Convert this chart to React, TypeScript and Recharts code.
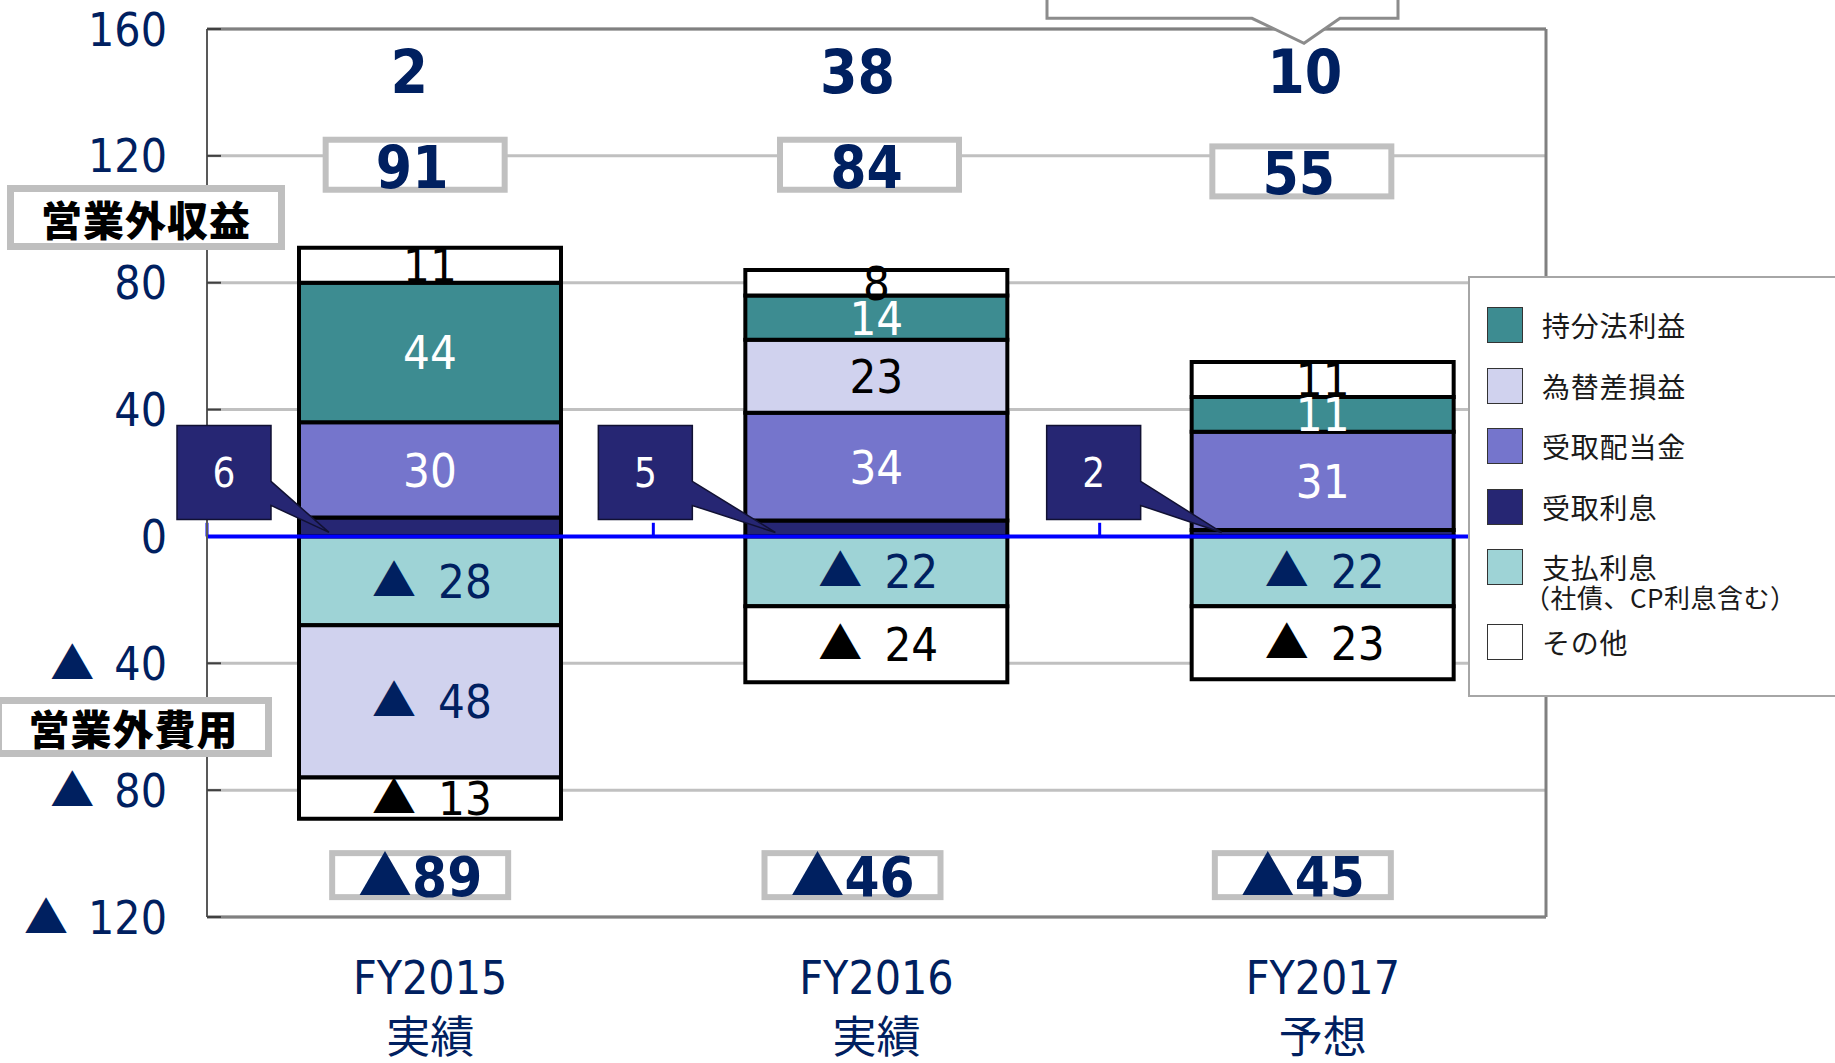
import React from "react";
import {
  Bar,
  BarChart,
  CartesianGrid,
  LabelList,
  ReferenceDot,
  ReferenceLine,
  XAxis,
  YAxis,
} from "recharts";

const categories = ["FY2015", "FY2016", "FY2017"];
const categorySubLabels = ["実績", "実績", "予想"];

// 営業外収益
const interestIncome = [6, 5, 2]; // 受取利息
const dividendIncome = [30, 34, 31]; // 受取配当金
const fxGainLoss = [-48, 23, 0]; // 為替差損益
const equityIncome = [44, 14, 11]; // 持分法利益
const otherIncome = [11, 8, 11]; // その他

// 営業外費用
const interestExpense = [-28, -22, -22]; // 支払利息
const otherExpense = [-13, -24, -23]; // その他

const incomeTotals = [91, 84, 55];
const expenseTotals = [-89, -46, -45];
const netTotals = [2, 38, 10];

const yTicks = [-120, -80, -40, 0, 40, 80, 120, 160];

const legendItems = [
  { label: "持分法利益", color: "#3D8C91" },
  { label: "為替差損益", color: "#D0D2EE" },
  { label: "受取配当金", color: "#7575CC" },
  { label: "受取利息", color: "#262673" },
  { label: "支払利息", sub: "（社債、CP利息含む）", color: "#9ED3D6" },
  { label: "その他", color: "#FFFFFF" },
];

const NAVY = "#002060";
const NARROW =
  "'Liberation Sans Narrow', 'Arial Narrow', 'DejaVu Sans Condensed', sans-serif";
const JP = "'Noto Sans CJK JP', sans-serif";
const BAR_STROKE = 4;

// small per-column nudges of the text boxes, in px
const netDx = [-21, -19, -18];
const incomeBoxDx = [-15, -7, -21];
const incomeBoxY = [117.2, 117.2, 115.1];
const expenseBoxDx = [-10, -24, -20];
const calloutGap = [28, 53, 51];

const data = categories.map((name, i) => ({
  name,
  interestIncome: interestIncome[i],
  dividendIncome: dividendIncome[i],
  fxGain: fxGainLoss[i] > 0 ? fxGainLoss[i] : null,
  equityIncome: equityIncome[i],
  otherIncome: otherIncome[i],
  interestExpense: interestExpense[i],
  fxLoss: fxGainLoss[i] < 0 ? fxGainLoss[i] : null,
  otherExpense: otherExpense[i],
}));

const box = (props: any) => props.viewBox ?? props;

function segmentLabel(color: string, negative = false) {
  return (props: any) => {
    const { x, y, width, height } = box(props);
    const value = props.value;
    if (value == null || value === 0) return null;
    const cx = x + width / 2;
    const cy = y + height / 2;
    if (!negative) {
      return (
        <text
          x={cx}
          y={cy}
          dy="0.36em"
          textAnchor="middle"
          fill={color}
          fontSize={47}
          fontFamily={NARROW}
        >
          {value}
        </text>
      );
    }
    return (
      <g>
        <text
          x={cx - 36}
          y={cy}
          dy="0.36em"
          textAnchor="middle"
          fill={color}
          fontSize={44}
          fontFamily={JP}
        >
          ▲
        </text>
        <text
          x={cx + 35}
          y={cy}
          dy="0.36em"
          textAnchor="middle"
          fill={color}
          fontSize={47}
          fontFamily={NARROW}
        >
          {Math.abs(value)}
        </text>
      </g>
    );
  };
}

// dark callout box pointing at the 受取利息 slice
const renderCallout = (props: any) => {
  const { x, y, width, height } = box(props);
  const value = props.value;
  const index = props.index ?? 0;
  if (!value) return null;
  const zeroY = y + height;
  const ppu = height / value;
  const right = x - calloutGap[index];
  const left = right - 94;
  const top = zeroY - 35 * ppu;
  const bottom = top + 94;
  const tipX = x + 30;
  const tipY = zeroY - 4;
  const d = `M${left},${top} L${right},${top} L${right},${top + 56} L${tipX},${tipY} L${right},${top + 80} L${right},${bottom} L${left},${bottom} Z`;
  return (
    <g>
      <path d={d} fill="#262673" stroke="#111133" strokeWidth={1.5} />
      <text
        x={(left + right) / 2}
        y={(top + bottom) / 2}
        dy="0.36em"
        textAnchor="middle"
        fill="#fff"
        fontSize={40}
        fontFamily={NARROW}
      >
        {value}
      </text>
    </g>
  );
};

// tick label plus the short inward tick mark on the left axis
const YTick = (props: any) => {
  const { x, y, payload } = props;
  const v = payload.value;
  const axisX = x + 40;
  return (
    <g>
      {v !== 0 && (
        <line x1={axisX} x2={axisX + 14} y1={y} y2={y} stroke="#404040" strokeWidth={2} />
      )}
      <text
        x={x}
        y={y}
        dy="0.36em"
        textAnchor="end"
        fill={NAVY}
        fontSize={46}
        fontFamily={NARROW}
      >
        {v < 0 && (
          <tspan fontFamily={JP} fontSize={44}>
            ▲
          </tspan>
        )}
        <tspan dx={v < 0 ? 20 : 0}>{Math.abs(v)}</tspan>
      </text>
    </g>
  );
};

const XTick = (props: any) => {
  const { x, y, payload, index } = props;
  return (
    <g>
      <text
        x={x}
        y={y + 60}
        dy="0.36em"
        textAnchor="middle"
        fill={NAVY}
        fontSize={46}
        fontFamily={NARROW}
      >
        {payload.value}
      </text>
      <text
        x={x}
        y={y + 119}
        dy="0.38em"
        textAnchor="middle"
        fill={NAVY}
        fontSize={44}
        fontFamily={JP}
      >
        {categorySubLabels[index]}
      </text>
    </g>
  );
};

const sideLabel = (text: string, left: number, top: number, w: number, h: number) => (
  <div
    style={{
      position: "absolute",
      left,
      top,
      width: w,
      height: h,
      boxSizing: "border-box",
      border: "7px solid #BFBFBF",
      background: "#fff",
      display: "flex",
      alignItems: "center",
      justifyContent: "center",
      fontFamily: JP,
      fontWeight: 900,
      fontSize: 41,
      color: "#000",
      letterSpacing: 1,
    }}
  >
    {text}
  </div>
);

export default function App() {
  return (
    <div
      style={{
        position: "absolute",
        left: 0,
        top: 0,
        width: 1835,
        height: 1063,
        background: "#fff",
        overflow: "hidden",
      }}
    >
      <BarChart
        width={1835}
        height={1063}
        data={data}
        stackOffset="sign"
        margin={{ top: 29, right: 289, bottom: 0, left: 0 }}
      >
        <CartesianGrid vertical={false} stroke="#C0C0C0" strokeWidth={3} />
        <XAxis
          dataKey="name"
          height={146}
          interval={0}
          tickLine={false}
          tickSize={0}
          tickMargin={0}
          axisLine={{ stroke: "#808080", strokeWidth: 3 }}
          tick={<XTick />}
        />
        <YAxis
          width={207}
          domain={[-120, 160]}
          ticks={yTicks}
          interval={0}
          tickSize={0}
          tickMargin={40}
          axisLine={{ stroke: "#595959", strokeWidth: 2 }}
          tick={<YTick />}
        />

        <Bar dataKey="interestIncome" stackId="s" fill="#262673" stroke="#000" strokeWidth={BAR_STROKE} barSize={262} isAnimationActive={false}>
          <LabelList dataKey="interestIncome" content={renderCallout} />
        </Bar>
        <Bar dataKey="dividendIncome" stackId="s" fill="#7575CC" stroke="#000" strokeWidth={BAR_STROKE} barSize={262} isAnimationActive={false}>
          <LabelList dataKey="dividendIncome" content={segmentLabel("#fff")} />
        </Bar>
        <Bar dataKey="fxGain" stackId="s" fill="#D0D2EE" stroke="#000" strokeWidth={BAR_STROKE} barSize={262} isAnimationActive={false}>
          <LabelList dataKey="fxGain" content={segmentLabel("#000")} />
        </Bar>
        <Bar dataKey="equityIncome" stackId="s" fill="#3D8C91" stroke="#000" strokeWidth={BAR_STROKE} barSize={262} isAnimationActive={false}>
          <LabelList dataKey="equityIncome" content={segmentLabel("#fff")} />
        </Bar>
        <Bar dataKey="otherIncome" stackId="s" fill="#FFFFFF" stroke="#000" strokeWidth={BAR_STROKE} barSize={262} isAnimationActive={false}>
          <LabelList dataKey="otherIncome" content={segmentLabel("#000")} />
        </Bar>
        <Bar dataKey="interestExpense" stackId="s" fill="#9ED3D6" stroke="#000" strokeWidth={BAR_STROKE} barSize={262} isAnimationActive={false}>
          <LabelList dataKey="interestExpense" content={segmentLabel(NAVY, true)} />
        </Bar>
        <Bar dataKey="fxLoss" stackId="s" fill="#D0D2EE" stroke="#000" strokeWidth={BAR_STROKE} barSize={262} isAnimationActive={false}>
          <LabelList dataKey="fxLoss" content={segmentLabel(NAVY, true)} />
        </Bar>
        <Bar dataKey="otherExpense" stackId="s" fill="#FFFFFF" stroke="#000" strokeWidth={BAR_STROKE} barSize={262} isAnimationActive={false}>
          <LabelList dataKey="otherExpense" content={segmentLabel("#000", true)} />
        </Bar>

        {/* plot frame */}
        <ReferenceLine y={160} stroke="#808080" strokeWidth={3} />
        <ReferenceLine x="FY2017" position="end" stroke="#808080" strokeWidth={3} />
        <ReferenceLine y={0} stroke="#0000FF" strokeWidth={4} />
        {categories.map((c) => (
          <ReferenceLine
            key={`bt-${c}`}
            position="start"
            segment={[{ x: c, y: 0 }, { x: c, y: 4.3 }]}
            stroke="#0000FF"
            strokeWidth={3}
          />
        ))}

        {categories.map((c, i) => (
          <ReferenceDot
            key={`net-${c}`}
            x={c}
            y={146.5}
            r={1}
            shape={(p: any) => (
              <text
                x={p.cx + netDx[i]}
                y={p.cy}
                dy="0.36em"
                textAnchor="middle"
                fill={NAVY}
                fontSize={60}
                fontWeight="bold"
                fontFamily={NARROW}
              >
                {netTotals[i]}
              </text>
            )}
          />
        ))}
        {categories.map((c, i) => (
          <ReferenceDot
            key={`inc-${c}`}
            x={c}
            y={incomeBoxY[i]}
            r={1}
            shape={(p: any) => (
              <g>
                <rect
                  x={p.cx + incomeBoxDx[i] - 89.5}
                  y={p.cy - 25}
                  width={179}
                  height={50}
                  fill="#fff"
                  stroke="#C0C0C0"
                  strokeWidth={6}
                />
                <text
                  x={p.cx + incomeBoxDx[i] - 3}
                  y={p.cy + 2}
                  dy="0.36em"
                  textAnchor="middle"
                  fill={NAVY}
                  fontSize={58}
                  fontWeight="bold"
                  fontFamily={NARROW}
                >
                  {incomeTotals[i]}
                </text>
              </g>
            )}
          />
        ))}
        {categories.map((c, i) => (
          <ReferenceDot
            key={`exp-${c}`}
            x={c}
            y={-106.8}
            r={1}
            shape={(p: any) => (
              <g>
                <rect
                  x={p.cx + expenseBoxDx[i] - 88}
                  y={p.cy - 22}
                  width={176}
                  height={44}
                  fill="#fff"
                  stroke="#C0C0C0"
                  strokeWidth={6}
                />
                <text
                  x={p.cx + expenseBoxDx[i]}
                  y={p.cy + 1}
                  dy="0.36em"
                  textAnchor="middle"
                  fill={NAVY}
                  fontSize={56}
                  fontWeight="bold"
                  fontFamily={NARROW}
                >
                  <tspan fontFamily={JP} fontSize={54}>
                    ▲
                  </tspan>
                  <tspan>{Math.abs(expenseTotals[i])}</tspan>
                </text>
              </g>
            )}
          />
        ))}
      </BarChart>

      {sideLabel("営業外収益", 7, 185, 278, 65)}
      {sideLabel("営業外費用", -5, 697, 277, 60)}

      <svg
        width={1835}
        height={60}
        style={{ position: "absolute", left: 0, top: 0 }}
      >
        <path
          d="M1047,-5 L1047,18.3 L1252,18.3 L1304,43.3 L1340,18.3 L1398,18.3 L1398,-5 Z"
          fill="#fff"
          stroke="#8C8C8C"
          strokeWidth={3}
        />
      </svg>

      <div
        style={{
          position: "absolute",
          left: 1468,
          top: 276,
          width: 420,
          height: 421,
          boxSizing: "border-box",
          border: "2px solid #A6A6A6",
          background: "#fff",
          fontFamily: JP,
          color: "#1a1a1a",
        }}
      >
        {legendItems.map((item, i) => {
          const cy = [323, 384, 444, 504.5, 565, 640][i] - 276;
          return (
            <div key={item.label}>
              <div
                style={{
                  position: "absolute",
                  left: 17,
                  top: cy - 18,
                  width: 36,
                  height: 36,
                  boxSizing: "border-box",
                  border: "1.5px solid #333",
                  background: item.color,
                }}
              />
              <div
                style={{
                  position: "absolute",
                  left: 72,
                  top: cy - 20,
                  fontSize: 28,
                  lineHeight: "40px",
                  letterSpacing: 0.8,
                  whiteSpace: "nowrap",
                }}
              >
                {item.label}
              </div>
              {item.sub && (
                <div
                  style={{
                    position: "absolute",
                    left: 54,
                    top: cy + 12,
                    fontSize: 26,
                    lineHeight: "36px",
                    letterSpacing: 0.5,
                    whiteSpace: "nowrap",
                  }}
                >
                  {item.sub}
                </div>
              )}
            </div>
          );
        })}
      </div>
    </div>
  );
}
